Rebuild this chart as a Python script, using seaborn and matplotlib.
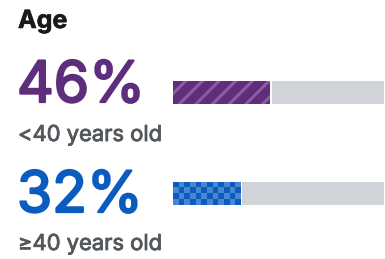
import matplotlib
matplotlib.use("Agg")
import matplotlib.pyplot as plt
import matplotlib.patheffects as pe
import seaborn as sns
import numpy as np
import pandas as pd
from matplotlib.colors import ListedColormap

title = "Age"
values = [46, 32]
labels = ["<40 years old", "≥40 years old"]
total = 100

sns.set_theme(style="white")
plt.rcParams['font.family'] = ['Inter', 'DejaVu Sans']
plt.rcParams['hatch.linewidth'] = 2.2

purple = "#5e2d7c"
purple_light = "#8c5c9e"
blue = "#0b5cbf"
blue_light = "#4a86d0"
gray = "#d0d3d7"
text_gray = "#53585c"

W, H = 385, 259
fig = plt.figure(figsize=(W / 100, H / 100), dpi=100)
fig.patch.set_facecolor("white")

x0, x1 = 173, 384
ytop, ybot = 81, 205
ax = fig.add_axes([x0 / W, 1 - ybot / H, (x1 - x0) / W, (ybot - ytop) / H])

df = pd.DataFrame({"label": labels, "value": values,
                   "total": [total] * len(values)})

sns.barplot(data=df, x="total", y="label", color=gray, width=0.23, ax=ax,
            orient="h", saturation=1)
sns.barplot(data=df, x="value", y="label", color=purple, width=0.23, ax=ax,
            orient="h", saturation=1)

n = len(values)
gray_patches = ax.patches[:n]
col_patches = ax.patches[n:]

for gp, cp in zip(gray_patches, col_patches):
    gap = 0.9
    gp.set_x(cp.get_width() + gap)
    gp.set_width(total - cp.get_width() - gap)
    gp.set_linewidth(0)

p0 = col_patches[0]
p0.set_facecolor(purple)
p0.set_edgecolor(purple_light)
p0.set_hatch("//")
p0.set_linewidth(0)

p1 = col_patches[1]
p1.set_facecolor(blue)
p1.set_linewidth(0)
nx, ny = 12, 4
checker = (np.add.outer(np.arange(ny), np.arange(nx)) % 2)
cmap = ListedColormap([blue, blue_light])
im = ax.imshow(checker, cmap=cmap, interpolation="nearest", aspect="auto",
               extent=[p1.get_x(), p1.get_x() + p1.get_width(),
                       p1.get_y() + p1.get_height(), p1.get_y()], zorder=3)
im.set_clip_path(p1)

ax.set_xlim(0, total)
ax.set_ylim(1.114, -0.115)
ax.axis("off")


def bolder(color, w):
    return [pe.withStroke(linewidth=w, foreground=color)]


fig.text(18 / W, 1 - 28 / H, title, fontsize=18, fontweight="bold", color="#1a1a1a",
         va="baseline", ha="left", path_effects=bolder("#1a1a1a", 0.4))
num_colors = [purple, blue]
num_base = [102, 212]
lab_base = [141, 250]
for v, lab, c, nb, lb in zip(values, labels, num_colors, num_base, lab_base):
    fig.text(17 / W, 1 - nb / H, f"{v}%", fontsize=41, color=c,
             va="baseline", ha="left", path_effects=bolder(c, 1.6))
    fig.text(18 / W, 1 - lb / H, lab, fontsize=15.8, color=text_gray,
             va="baseline", ha="left", path_effects=bolder(text_gray, 0.6))

fig.savefig("out.png", dpi=100, facecolor="white")
